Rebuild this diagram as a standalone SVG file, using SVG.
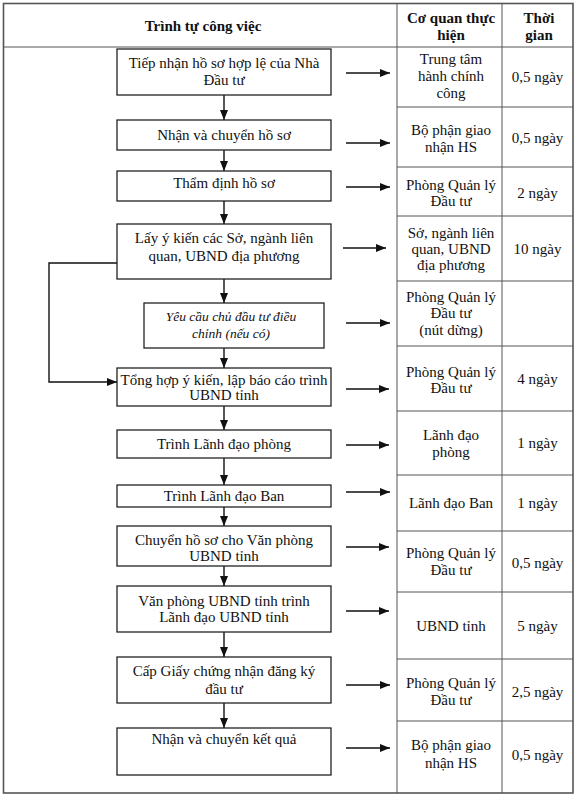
<svg xmlns="http://www.w3.org/2000/svg" width="576" height="796" viewBox="0 0 576 796">
<style>
text{font-family:"Liberation Serif","Times New Roman",serif;font-size:15px;fill:#111;text-anchor:middle}
.h{font-weight:bold}
.it{font-style:italic;font-size:13.5px}
.grid{stroke:#555;stroke-width:1;fill:none}
.box{fill:#fff;stroke:#222;stroke-width:1.3}
.ln{stroke:#111;stroke-width:1.4;fill:none}
</style>
<defs>
<marker id="ah" viewBox="0 0 10 8" refX="10" refY="4" markerWidth="10" markerHeight="8" markerUnits="userSpaceOnUse" orient="auto">
<path d="M0,0 L10,4 L0,8 Z" fill="#111"/>
</marker>
</defs>
<rect width="576" height="796" fill="#fff"/>
<g id="table">
<rect class="grid" x="3.5" y="3.5" width="569.5" height="789.5" style="stroke-width:1.6"/>
<line class="grid" x1="3.5" y1="47" x2="573" y2="47"/>
<line class="grid" x1="397" y1="3.5" x2="397" y2="793"/>
<line class="grid" x1="502" y1="3.5" x2="502" y2="793"/>
<path class="grid" d="M397,107H573M397,167H573M397,216H573M397,281H573M397,346H573M397,411H573M397,475H573M397,531H573M397,592H573M397,659H573M397,721H573"/>
<text class="h" x="203" y="31">Trình tự công việc</text>
<text class="h" x="451" y="23">Cơ quan thực</text>
<text class="h" x="451" y="40">hiện</text>
<text class="h" x="539" y="23">Thời</text>
<text class="h" x="539" y="40">gian</text>
</g>
<g id="agency">
<text x="451" y="64">Trung tâm</text><text x="451" y="81">hành chính</text><text x="451" y="98">công</text>
<text x="451" y="135">Bộ phận giao</text><text x="451" y="152">nhận HS</text>
<text x="451" y="190">Phòng Quản lý</text><text x="451" y="206">Đầu tư</text>
<text x="451" y="238">Sở, ngành liên</text><text x="451" y="254">quan, UBND</text><text x="451" y="270">địa phương</text>
<text x="451" y="302">Phòng Quản lý</text><text x="451" y="318">Đầu tư</text><text x="451" y="335">(nút dừng)</text>
<text x="451" y="377">Phòng Quản lý</text><text x="451" y="393">Đầu tư</text>
<text x="451" y="440">Lãnh đạo</text><text x="451" y="457">phòng</text>
<text x="451" y="508">Lãnh đạo Ban</text>
<text x="451" y="558">Phòng Quản lý</text><text x="451" y="575">Đầu tư</text>
<text x="451" y="631">UBND tỉnh</text>
<text x="451" y="688">Phòng Quản lý</text><text x="451" y="705">Đầu tư</text>
<text x="451" y="750">Bộ phận giao</text><text x="451" y="768">nhận HS</text>
</g>
<g id="time">
<text x="537.5" y="82">0,5 ngày</text>
<text x="537.5" y="143">0,5 ngày</text>
<text x="537.5" y="198">2 ngày</text>
<text x="537.5" y="254">10 ngày</text>
<text x="537.5" y="384">4 ngày</text>
<text x="537.5" y="448">1 ngày</text>
<text x="537.5" y="508">1 ngày</text>
<text x="537.5" y="568">0,5 ngày</text>
<text x="537.5" y="631">5 ngày</text>
<text x="537.5" y="697">2,5 ngày</text>
<text x="537.5" y="760">0,5 ngày</text>
</g>
<g id="connectors">
<path class="ln" marker-end="url(#ah)" d="M224,95V120"/>
<path class="ln" marker-end="url(#ah)" d="M224,150V171"/>
<path class="ln" marker-end="url(#ah)" d="M224,201V224"/>
<path class="ln" marker-end="url(#ah)" d="M224,279V303"/>
<path class="ln" marker-end="url(#ah)" d="M224,348V368"/>
<path class="ln" marker-end="url(#ah)" d="M224,406V430"/>
<path class="ln" marker-end="url(#ah)" d="M224,458V485"/>
<path class="ln" marker-end="url(#ah)" d="M224,507V526"/>
<path class="ln" marker-end="url(#ah)" d="M224,566V586"/>
<path class="ln" marker-end="url(#ah)" d="M224,632V657"/>
<path class="ln" marker-end="url(#ah)" d="M224,703V728"/>
<path class="ln" marker-end="url(#ah)" d="M117,263H49V382H117"/>
<path class="ln" marker-end="url(#ah)" d="M346,73H390"/>
<path class="ln" marker-end="url(#ah)" d="M346,143H390"/>
<path class="ln" marker-end="url(#ah)" d="M346,187H390"/>
<path class="ln" marker-end="url(#ah)" d="M343,248H386"/>
<path class="ln" marker-end="url(#ah)" d="M346,323H390"/>
<path class="ln" marker-end="url(#ah)" d="M346,389H389"/>
<path class="ln" marker-end="url(#ah)" d="M346,445H389"/>
<path class="ln" marker-end="url(#ah)" d="M346,492H390"/>
<path class="ln" marker-end="url(#ah)" d="M346,547H389"/>
<path class="ln" marker-end="url(#ah)" d="M346,611H389"/>
<path class="ln" marker-end="url(#ah)" d="M346,685H390"/>
<path class="ln" marker-end="url(#ah)" d="M346,748H390"/>
</g>
<g id="n1"><rect class="box" x="117" y="49" width="214" height="46"/><text x="224" y="68">Tiếp nhận hồ sơ hợp lệ của Nhà</text><text x="224" y="85">Đầu tư</text></g>
<g id="n2"><rect class="box" x="117" y="120" width="214" height="30"/><text x="224" y="140">Nhận và chuyển hồ sơ</text></g>
<g id="n3"><rect class="box" x="117" y="171" width="214" height="30"/><text x="224" y="188">Thẩm định hồ sơ</text></g>
<g id="n4"><rect class="box" x="117" y="224" width="214" height="55"/><text x="224" y="243">Lấy ý kiến các Sở, ngành liên</text><text x="224" y="261">quan, UBND địa phương</text></g>
<g id="n5"><rect class="box" x="144" y="303" width="180" height="45"/><text class="it" x="231" y="321">Yêu cầu chủ đầu tư điều</text><text class="it" x="231" y="338">chỉnh (nếu có)</text></g>
<g id="n6"><rect class="box" x="117" y="368" width="214" height="38"/><text x="224" y="385">Tổng hợp ý kiến, lập báo cáo trình</text><text x="224" y="400">UBND tỉnh</text></g>
<g id="n7"><rect class="box" x="117" y="430" width="214" height="28"/><text x="224" y="449">Trình Lãnh đạo phòng</text></g>
<g id="n8"><rect class="box" x="117" y="485" width="214" height="22"/><text x="224" y="501">Trình Lãnh đạo Ban</text></g>
<g id="n9"><rect class="box" x="117" y="526" width="214" height="40"/><text x="224" y="545">Chuyển hồ sơ cho Văn phòng</text><text x="224" y="561">UBND tỉnh</text></g>
<g id="n10"><rect class="box" x="117" y="586" width="214" height="46"/><text x="224" y="606">Văn phòng UBND tỉnh trình</text><text x="224" y="622">Lãnh đạo UBND tỉnh</text></g>
<g id="n11"><rect class="box" x="117" y="657" width="214" height="46"/><text x="224" y="676">Cấp Giấy chứng nhận đăng ký</text><text x="224" y="694">đầu tư</text></g>
<g id="n12"><rect class="box" x="117" y="728" width="214" height="47"/><text x="224" y="744">Nhận và chuyển kết quả</text></g>
</svg>
